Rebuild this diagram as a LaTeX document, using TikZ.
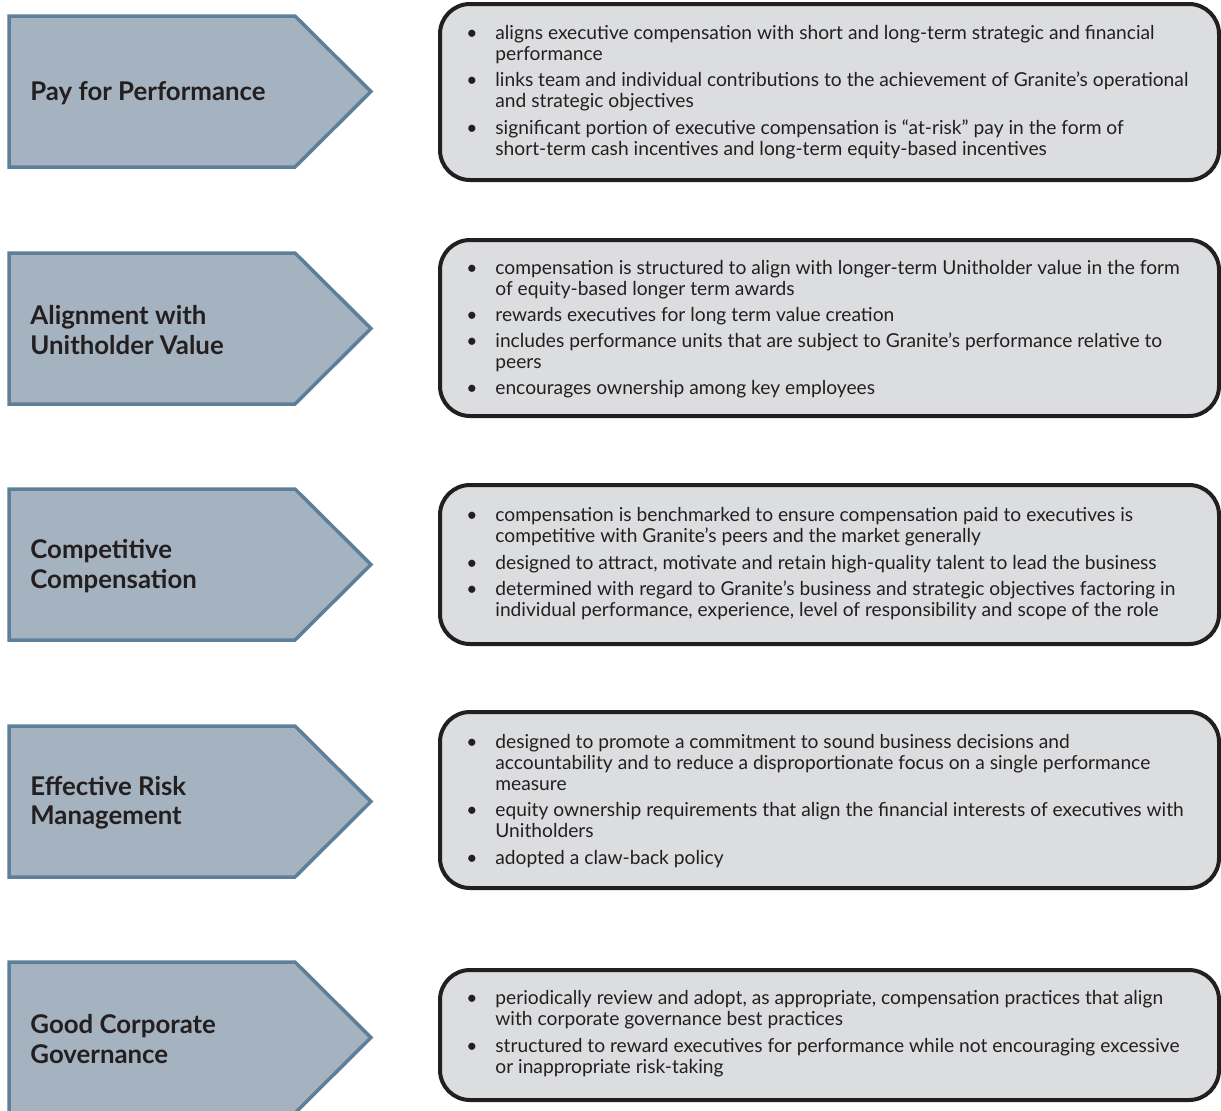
\documentclass[tikz,border=0pt]{standalone}
\usepackage{fontspec}
\setmainfont{Lato}
\usepackage{tikz}
\usetikzlibrary{positioning}

\definecolor{arrowfill}{HTML}{A5B2BF}
\definecolor{arrowline}{HTML}{5E7F99}
\definecolor{boxfill}{HTML}{DCDDDF}
\definecolor{ink}{HTML}{231F20}

\newcommand{\labelfont}{\fontsize{12.9}{14.7}\selectfont\bfseries}
\newcommand{\bodyfont}{\fontsize{9.6}{10.5}\selectfont}

\tikzset{
  pillar/.style={fill=arrowfill, draw=arrowline, line width=1.75pt, line join=miter},
  pillartext/.style={anchor=west, align=left, font=\labelfont, text=ink, inner sep=0pt},
  infobox/.style={fill=boxfill, draw=ink, line width=2pt, rounded corners=15pt},
  infotext/.style={anchor=west, align=left, font=\bodyfont, text=ink, inner sep=0pt}
}

\begin{document}
\begin{tikzpicture}[x=0.5pt, y=-0.5pt]
      \useasboundingbox (0,0) rectangle (1221,1110);
      % arrows %
      \foreach \t/\name/\lbl in {16/pay/{Pay for Performance},
          253/align/{Alignment with\\Unitholder Value},
          489/compete/{Competitive\\Compensation},
          726/risk/{Effective Risk\\Management},
          962/govern/{Good Corporate\\Governance}}{
        \draw[pillar] (9,\t) -- (295,\t) -- (371,{\t+75.5}) -- (295,{\t+151}) -- (9,{\t+151}) -- cycle;
        \node[pillartext] (\name) at (30,{\t+77}) {\lbl};
      }
      % boxes %
      \draw[infobox] (440,4) rectangle (1219,180);
      \draw[infobox] (440,240) rectangle (1219,416);
      \draw[infobox] (440,485) rectangle (1219,644);
      \draw[infobox] (440,712) rectangle (1219,888);
      \draw[infobox] (440,970) rectangle (1219,1100);
      % texts %
      \node[infotext] (paytext) at (466,93) {\begin{tabular}{@{}p{14.5pt}@{}l@{}}
        \textbullet & aligns executive compensation with short and long-term strategic and financial\\
        & performance\\[2.75pt]
        \textbullet & links team and individual contributions to the achievement of Granite’s operational\\
        & and strategic objectives\\[2.75pt]
        \textbullet & significant portion of executive compensation is “at-risk” pay in the form of\\
        & short-term cash incentives and long-term equity-based incentives
      \end{tabular}};
      \node[infotext] (aligntext) at (466,330) {\begin{tabular}{@{}p{14.5pt}@{}l@{}}
        \textbullet & compensation is structured to align with longer-term Unitholder value in the form\\
        & of equity-based longer term awards\\[2.5pt]
        \textbullet & rewards executives for long term value creation\\[2.5pt]
        \textbullet & includes performance units that are subject to Granite’s performance relative to\\
        & peers\\[2.5pt]
        \textbullet & encourages ownership among key employees
      \end{tabular}};
      \node[infotext] (competetext) at (466,565) {\begin{tabular}{@{}p{14.5pt}@{}l@{}}
        \textbullet & compensation is benchmarked to ensure compensation paid to executives is\\
        & competitive with Granite’s peers and the market generally\\[2.75pt]
        \textbullet & designed to attract, motivate and retain high-quality talent to lead the business\\[2.75pt]
        \textbullet & determined with regard to Granite’s business and strategic objectives factoring in\\
        & individual performance, experience, level of responsibility and scope of the role
      \end{tabular}};
      \node[infotext] (risktext) at (466,802) {\begin{tabular}{@{}p{14.5pt}@{}l@{}}
        \textbullet & designed to promote a commitment to sound business decisions and\\
        & accountability and to reduce a disproportionate focus on a single performance\\
        & measure\\[2.75pt]
        \textbullet & equity ownership requirements that align the financial interests of executives with\\
        & Unitholders\\[2.75pt]
        \textbullet & adopted a claw-back policy
      \end{tabular}};
      \node[infotext] (governtext) at (466,1035) {\begin{tabular}{@{}p{14.5pt}@{}l@{}}
        \textbullet & periodically review and adopt, as appropriate, compensation practices that align\\
        & with corporate governance best practices\\[2.75pt]
        \textbullet & structured to reward executives for performance while not encouraging excessive\\
        & or inappropriate risk-taking
      \end{tabular}};
\end{tikzpicture}
\end{document}
